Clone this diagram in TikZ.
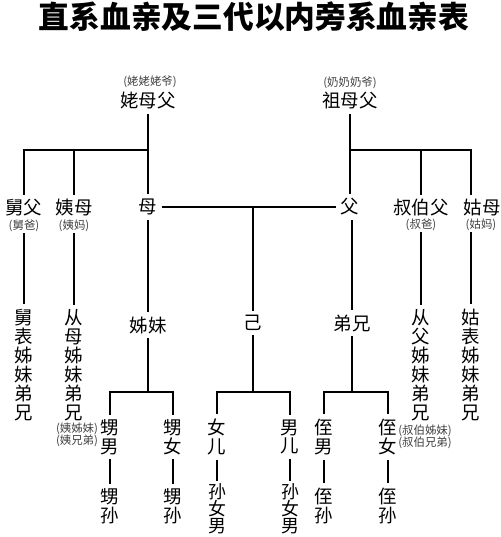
\documentclass[tikz,border=0pt]{standalone}
\usepackage{fontspec}
\usepackage{tikz}
\newfontfamily\zh{Noto Sans CJK SC}
\usetikzlibrary{positioning, calc}

\begin{document}
\begin{tikzpicture}[
    x=0.02cm, y=-0.02cm,
    rel/.style={inner sep=2.5pt, align=center, font=\zh\fontsize{10.5}{10.8}\selectfont},
    tight/.style={rel, inner sep=1.5pt, font=\zh\fontsize{10.2}{9.7}\selectfont},
    note/.style={inner sep=0.5pt, align=center, font=\zh\fontsize{6.5}{7}\selectfont, text=black!75},
    link/.style={line width=1.1pt}
]
    \useasboundingbox (0,0) rectangle (500,537);

    % Title
    \node[font=\zh\bfseries\fontsize{17.5}{20}\selectfont] (title) at (254,17) {直系血亲及三代以内旁系血亲表};

    % Grandparents
    \node[note] (waizun) at (150,82) {(姥姥姥爷)};
    \node[rel] (waizu) at (148,101) {姥母父};
    \node[note] (zufun) at (350,83) {(奶奶奶爷)};
    \node[rel] (zufu) at (350,101) {祖母父};
    \coordinate (lj) at (148,150);
    \coordinate (rj) at (350,150);

    % Parents' generation
    \node[rel] (jiufu) at (24,208) {舅父};
    \node[note] (jiufun) at (24,226) {(舅爸)};
    \node[rel] (yimu) at (74,208) {姨母};
    \node[note] (yimun) at (74,226) {(姨妈)};
    \node[rel] (mu) at (148,207) {母};
    \node[rel] (fu) at (350,207) {父};
    \node[rel] (shubofu) at (421,208) {叔伯父};
    \node[note] (shubofun) at (421,225) {(叔爸)};
    \node[rel] (gumu) at (482,208) {姑母};
    \node[note] (gumun) at (481,225) {(姑妈)};
    \coordinate (midline) at (253,207);

    \draw[link] (waizu) -- (mu);
    \draw[link] (jiufu.north) |- (lj);
    \draw[link] (yimu.north) |- (lj);
    \draw[link] (zufu) -- (fu);
    \draw[link] (rj) -| (shubofu.north);
    \draw[link] (mu) -- (fu);

    % Own generation
    \node[rel] (jiubiao) at (24,365) {舅\\表\\姊\\妹\\弟\\兄};
    \node[rel] (congmu) at (74,365) {从\\母\\姊\\妹\\弟\\兄};
    \node[note] (congmun) at (77,435) {(姨姊妹)\\(姨兄弟)};
    \node[rel] (zimei) at (148,325) {姊妹};
    \node[rel] (ji) at (253,323) {己};
    \node[rel] (dixiong) at (352,323) {弟兄};
    \node[rel] (congfu) at (421,365) {从\\父\\姊\\妹\\弟\\兄};
    \node[note] (congfun) at (425,437) {(叔伯姊妹)\\(叔伯兄弟)};
    \node[rel] (gubiao) at (471,365) {姑\\表\\姊\\妹\\弟\\兄};

    \draw[link] (rj) -| (gumu.north -| gubiao.north);
    \draw[link] (jiufun) -- (jiubiao);
    \draw[link] (yimun) -- (congmu);
    \draw[link] (mu) -- (zimei);
    \draw[link] (midline) -- (ji);
    \draw[link] (fu.south -| dixiong.north) -- (dixiong);
    \draw[link] (shubofun) -- (congfu);
    \draw[link] (gubiao.north |- gumun.south) -- (gubiao);

    % Children
    \coordinate (fz1) at (148,392);
    \coordinate (fz2) at (253,392);
    \coordinate (fz3) at (352,392);
    \node[rel] (shengnan) at (110,437) {甥\\男};
    \node[rel] (shengnv) at (173,437) {甥\\女};
    \node[rel] (nver) at (217,437) {女\\儿};
    \node[rel] (naner) at (290,437) {男\\儿};
    \node[rel] (zhinan) at (324,437) {侄\\男};
    \node[rel] (zhinv) at (388,437) {侄\\女};

    \draw[link] (zimei) -- (fz1);
    \draw[link] (shengnan.north) |- (fz1) -| (shengnv.north);
    \draw[link] (ji) -- (fz2);
    \draw[link] (nver.north) |- (fz2) -| (naner.north);
    \draw[link] (dixiong) -- (fz3);
    \draw[link] (zhinan.north) |- (fz3) -| (zhinv.north);

    % Grandchildren
    \node[rel] (shengsun1) at (110,506) {甥\\孙};
    \node[rel] (shengsun2) at (173,506) {甥\\孙};
    \node[tight] (sun1) at (217,509) {孙\\女\\男};
    \node[tight] (sun2) at (290,509) {孙\\女\\男};
    \node[rel] (zhisun1) at (324,506) {侄\\孙};
    \node[rel] (zhisun2) at (388,506) {侄\\孙};

    \draw[link] (shengnan) -- (shengsun1);
    \draw[link] (shengnv) -- (shengsun2);
    \draw[link] (nver.south) -- (nver.south |- sun1.north);
    \draw[link] (naner.south) -- (naner.south |- sun2.north);
    \draw[link] (zhinan) -- (zhisun1);
    \draw[link] (zhinv) -- (zhisun2);

\end{tikzpicture}
\end{document}
